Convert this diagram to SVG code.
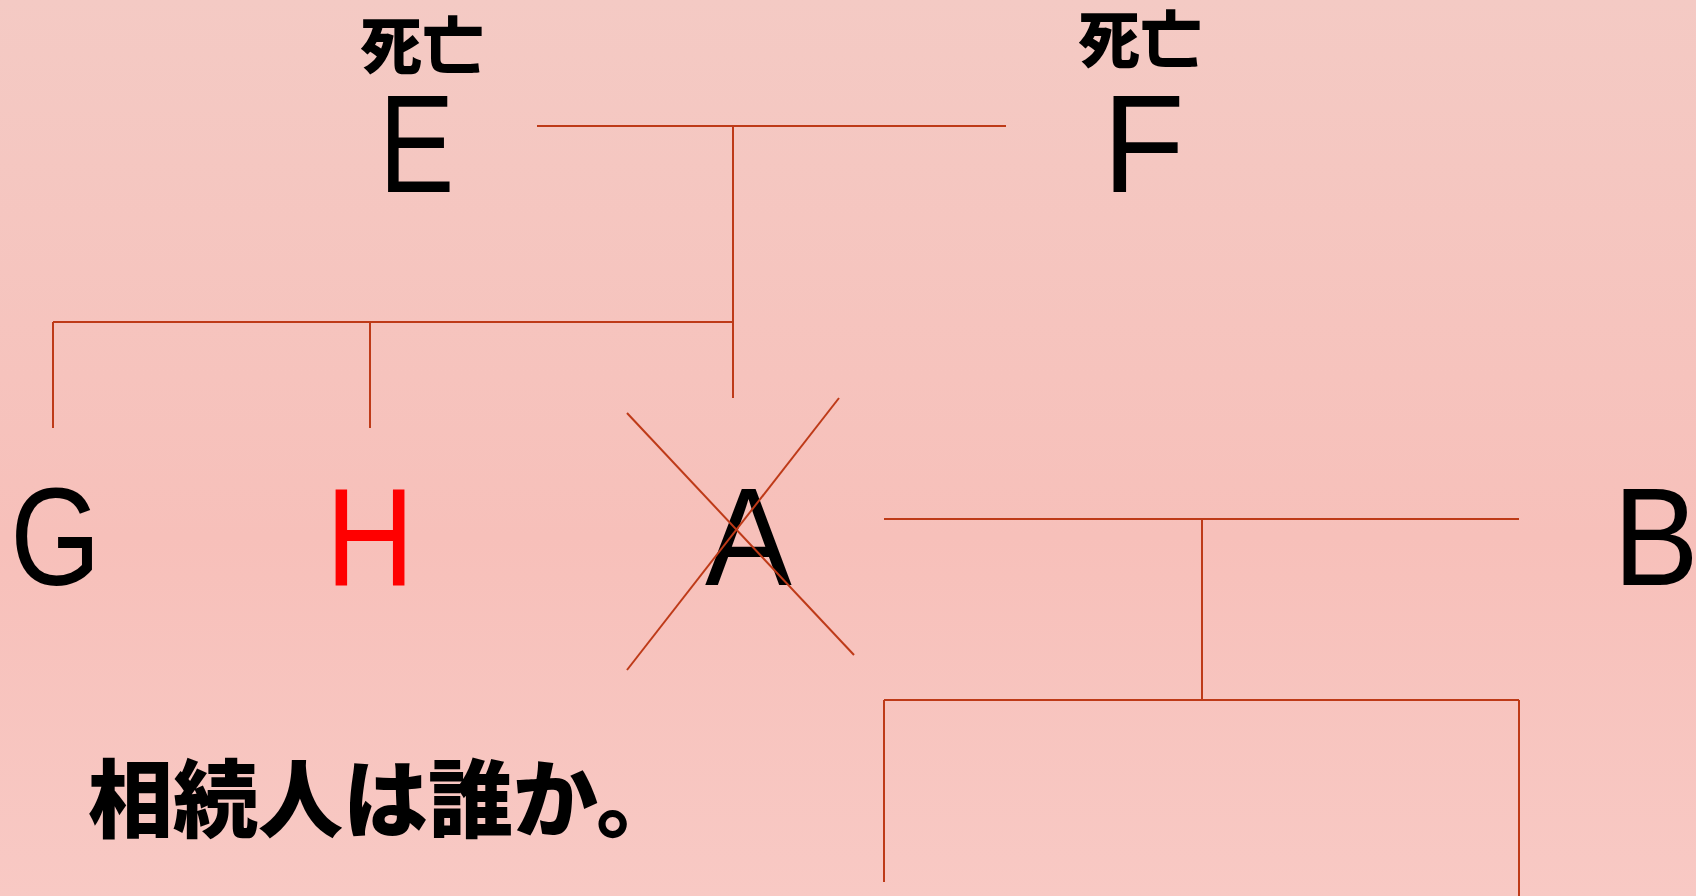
<svg xmlns="http://www.w3.org/2000/svg" width="1696" height="896" viewBox="0 0 1696 896">
<defs>
<linearGradient id="bg" x1="0" y1="0" x2="0" y2="1">
<stop offset="0" stop-color="#F4CAC4"/>
<stop offset="0.6" stop-color="#F7C0BA"/>
<stop offset="1" stop-color="#F8C9C4"/>
</linearGradient>
<style>
.lt{font-family:"Liberation Sans",Arial,sans-serif;font-size:140px;fill:#000;text-anchor:middle}
.jp{font-family:"Noto Sans CJK JP","Noto Sans CJK SC",sans-serif;font-weight:900;fill:#000}
.ln{stroke:#BE3A18;stroke-width:2;fill:none}
</style>
</defs>
<rect width="1696" height="896" fill="url(#bg)"/>
<g id="connectors" class="ln">
<line x1="537" y1="126" x2="1006" y2="126"/>
<line x1="733" y1="126" x2="733" y2="398"/>
<line x1="53" y1="322" x2="733" y2="322"/>
<line x1="53" y1="322" x2="53" y2="428"/>
<line x1="370" y1="322" x2="370" y2="428"/>
<line x1="884" y1="519" x2="1519" y2="519"/>
<line x1="1202" y1="519" x2="1202" y2="700"/>
<line x1="884" y1="700" x2="1519" y2="700"/>
<line x1="884" y1="700" x2="884" y2="882"/>
<line x1="1519" y1="700" x2="1519" y2="896"/>
</g>
<g id="node-E">
<text class="jp" x="360" y="69" font-size="62">死亡</text>
<text class="lt" transform="translate(416.5,192) scale(0.81,1)">E</text>
</g>
<g id="node-F">
<text class="jp" x="1078" y="63" font-size="62">死亡</text>
<text class="lt" transform="translate(1143.5,192) scale(0.96,1)">F</text>
</g>
<g id="node-G">
<text class="lt" transform="translate(55.5,585) scale(0.83,1)">G</text>
</g>
<g id="node-H">
<text class="lt" transform="translate(370,585) scale(0.88,1)" style="fill:#FF0000">H</text>
</g>
<g id="node-A">
<text class="lt" transform="translate(748.5,585) scale(0.93,1)">A</text>
<g class="ln">
<line x1="627" y1="413" x2="854" y2="655"/>
<line x1="627" y1="670" x2="839" y2="398"/>
</g>
</g>
<g id="node-B">
<text class="lt" transform="translate(1656,585) scale(0.92,1)">B</text>
</g>
<g id="question">
<text class="jp" x="88" y="831" font-size="85">相続人は誰か。</text>
</g>
</svg>
